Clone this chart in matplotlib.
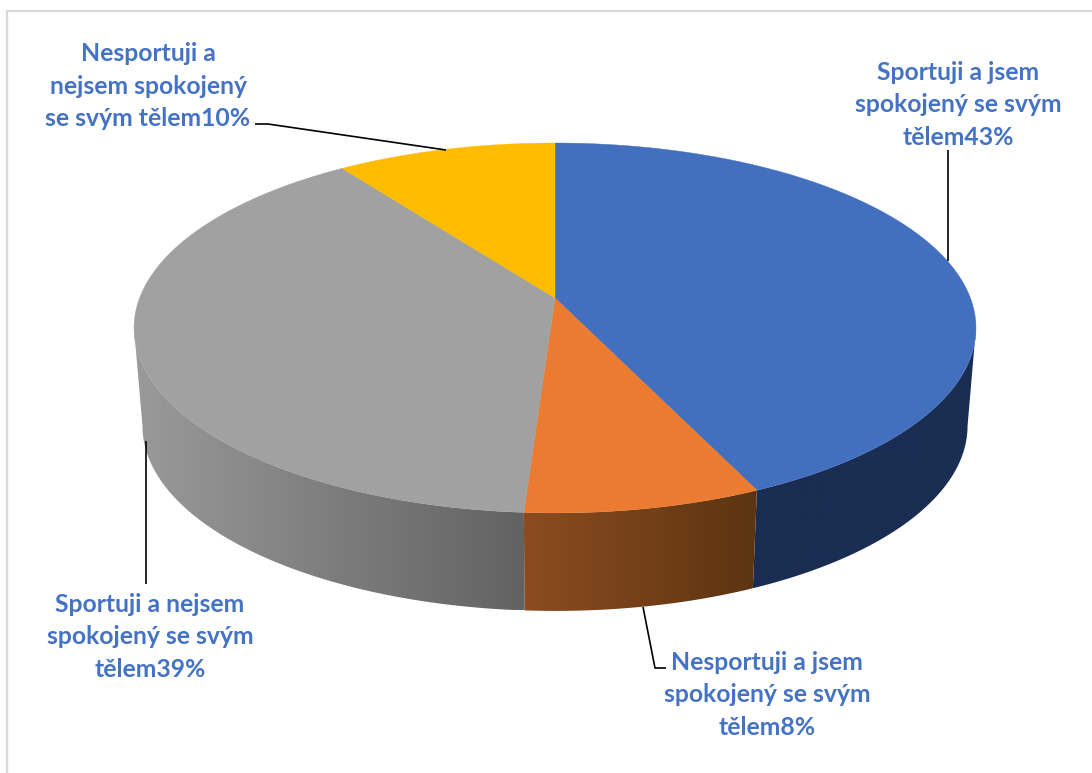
import numpy as np
import matplotlib
matplotlib.use("Agg")
import matplotlib.pyplot as plt
from matplotlib.colors import to_rgb
from matplotlib.patches import Polygon

# data
categories = ["Sportuji a jsem spokojený se svým tělem",
              "Nesportuji a jsem spokojený se svým tělem",
              "Sportuji a nejsem spokojený se svým tělem",
              "Nesportuji a nejsem spokojený se svým tělem"]
values = [43.2, 7.8, 39.15, 9.85]
label_lines = [["Sportuji a jsem", "spokojený se svým", "tělem{:.0f}%"],
               ["Nesportuji a jsem", "spokojený se svým", "tělem{:.0f}%"],
               ["Sportuji a nejsem", "spokojený se svým", "tělem{:.0f}%"],
               ["Nesportuji a", "nejsem spokojený", "se svým tělem{:.0f}%"]]

# styles
top_colors = ["#4270BE", "#EB7B30", "#A1A1A1", "#FDBC00"]
wall_left = ["#1A2D52", "#8C4C20", "#9A9A9A", "#997300"]
wall_right = ["#1A2D52", "#5C3411", "#626262", "#997300"]
label_color = "#4472C4"
label_xy = [(958, 105), (767, 695), (150, 637), (148, 86)]
leaders = [[(948, 150), (948, 261)],
           [(643, 607), (655, 668), (666, 668)],
           [(145.5, 441), (145.5, 584)],
           [(255, 124), (268, 124), (446, 150)]]

# perspective projection of the pie disc
CX, CY = 555, 298
A, C, P = 415.4, 180.1, 0.162
DEPTH, SHRINK = 98, 0.98
# the disc's silhouette points: only the rim between them faces the viewer
VIS_START = np.arccos(-P)
VIS_END = 2 * np.pi - VIS_START


def project(theta):
    d = 1 + P * np.cos(theta)
    return CX + A * np.sin(theta) / d, CY - C * np.cos(theta) / d


def project_low(theta):
    x, y = project(theta)
    return CX + (x - CX) * SHRINK, y + DEPTH


fig = plt.figure(figsize=(10.92, 7.73), dpi=100)
ax = fig.add_axes([0, 0, 1, 1])
ax.axis("off")

# frame (left and top only visible)
ax.plot([6.5, 6.5, 1092], [773, 10.5, 10.5], color="#D9D9D9", lw=1.6, zorder=1,
        solid_joinstyle="miter")

bounds = np.cumsum([0] + values) / sum(values) * 2 * np.pi

# side walls with a horizontal gradient
for i in range(len(values)):
    t0, t1 = max(bounds[i], VIS_START), min(bounds[i + 1], VIS_END)
    if t1 <= t0:
        continue
    ts = np.linspace(t0, t1, 300)
    xt, yt = project(ts)
    xb, yb = project_low(ts)
    pts = list(zip(xt, yt)) + list(zip(xb[::-1], yb[::-1]))
    wall = Polygon(pts, closed=True, facecolor="none", edgecolor="none", zorder=2)
    ax.add_patch(wall)
    x0, x1 = min(xt.min(), xb.min()), max(xt.max(), xb.max())
    y0, y1 = min(yt.min(), yb.min()), max(yt.max(), yb.max())
    f = np.linspace(0, 1, 256)[None, :, None]
    grad = np.array(to_rgb(wall_left[i]))[None, None, :] * (1 - f) + \
        np.array(to_rgb(wall_right[i]))[None, None, :] * f
    im = ax.imshow(grad, extent=(x0, x1, y1, y0), aspect="auto", zorder=2,
                   interpolation="bilinear")
    im.set_clip_path(wall)

# top face
for i in range(len(values)):
    ts = np.linspace(bounds[i], bounds[i + 1], 200)
    xt, yt = project(ts)
    pts = [(CX, CY)] + list(zip(xt, yt))
    ax.add_patch(Polygon(pts, closed=True, facecolor=top_colors[i],
                         edgecolor=top_colors[i], lw=0.3, zorder=3))

# leaders
for pts in leaders:
    xs, ys = zip(*pts)
    ax.plot(xs, ys, color="black", lw=1.2, zorder=4, solid_capstyle="butt")

# labels
for lines, v, (x, y) in zip(label_lines, values, label_xy):
    txt = "\n".join(lines).format(v)
    ax.text(x, y, txt, ha="center", va="center", color=label_color,
            family="Lato", weight="bold", fontsize=17.8, linespacing=1.52, zorder=5)

ax.set_xlim(0, 1092)
ax.set_ylim(773, 0)

fig.savefig("out.png", dpi=100)
